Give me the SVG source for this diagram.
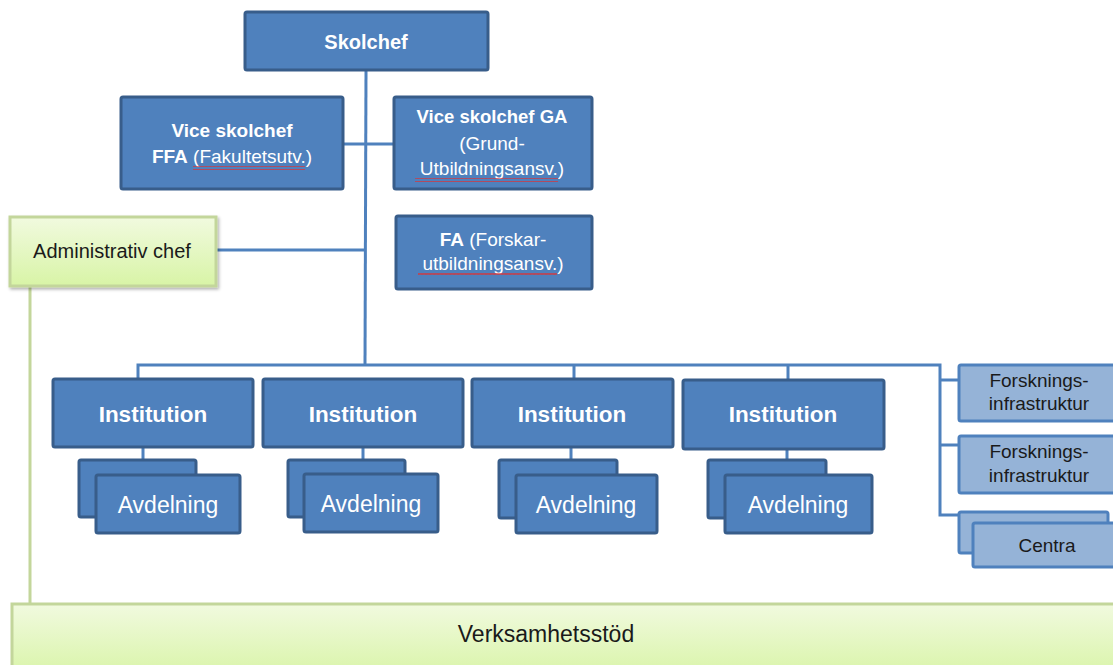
<svg xmlns="http://www.w3.org/2000/svg" width="1113" height="665" viewBox="0 0 1113 665">
<defs>
<linearGradient id="green" x1="0" y1="0" x2="0" y2="1">
<stop offset="0" stop-color="#f1fadf"/>
<stop offset="1" stop-color="#d8f4a6"/>
</linearGradient>
<pattern id="wave" width="4" height="4" patternUnits="userSpaceOnUse">
<path d="M0 3 L1 1 L2 3 L3 1 L4 3" fill="none" stroke="#e03030" stroke-width="0.8"/>
</pattern>
<filter id="sh" x="-10%" y="-10%" width="130%" height="130%">
<feDropShadow dx="1.5" dy="2" stdDeviation="1.5" flood-color="#000" flood-opacity="0.3"/>
</filter>
</defs>
<style>
.dark{fill:#4f81bd;stroke:#385d8a;stroke-width:3}
.light{fill:#95b3d7;stroke:#4f81bd;stroke-width:3}
.grn{fill:url(#green);stroke:#c3d69b;stroke-width:3}
.conn{fill:none;stroke:#4f81bd;stroke-width:3}
.gconn{fill:none;stroke:#c3d69b;stroke-width:3}
text{font-family:"Liberation Sans",Arial,sans-serif;text-anchor:middle}
.w{fill:#ffffff}
.b{font-weight:bold}
.k{fill:#1a1a1a}
.wv{fill:url(#wave)}
</style>
<g id="connectors">
<path class="conn" d="M366 70 L365 365"/>
<path class="conn" d="M343 144 H394"/>
<path class="conn" d="M216 250 H366"/>
<path class="conn" d="M138 379 V365 H940 V515 H959"/>
<path class="conn" d="M940 380 H959 M940 445 H959"/>
<path class="conn" d="M574 365 V379 M788 365 V380"/>
<path class="conn" d="M143 447 V474 M363 447 V474 M571 447 V474 M787 449 V474"/>
<path class="gconn" d="M30 286 V604"/>
</g>
<g id="skolchef">
<rect class="dark" x="245" y="12" width="243" height="58" rx="2"/>
<text class="w b" x="366" y="49" font-size="20">Skolchef</text>
</g>
<g id="vice-ffa">
<rect class="dark" x="121" y="97" width="222" height="92" rx="2"/>
<text class="w b" x="232" y="137" font-size="19">Vice skolchef</text>
<text class="w" x="232" y="163" font-size="19"><tspan class="b">FFA</tspan> (Fakultetsutv.)</text>
<rect class="wv" x="193" y="166" width="112" height="4"/>
</g>
<g id="vice-ga">
<rect class="dark" x="394" y="97" width="198" height="92" rx="2"/>
<text class="w b" x="492" y="123" font-size="18.5">Vice skolchef GA</text>
<text class="w" x="492" y="150" font-size="19">(Grund-</text>
<text class="w" x="492" y="175" font-size="19">Utbildningsansv.)</text>
<rect class="wv" x="415" y="178" width="143" height="4"/>
</g>
<g id="fa">
<rect class="dark" x="396" y="216" width="196" height="73" rx="2"/>
<text class="w" x="493" y="246" font-size="19"><tspan class="b">FA</tspan> (Forskar-</text>
<text class="w" x="493" y="270" font-size="19">utbildningsansv.)</text>
<rect class="wv" x="418" y="273" width="139" height="4"/>
</g>
<g id="admin">
<rect class="grn" x="10" y="217" width="206" height="69" filter="url(#sh)"/>
<text class="k" x="112" y="258" font-size="20">Administrativ chef</text>
</g>
<g id="inst1">
<rect class="dark" x="53" y="379" width="200" height="68" rx="2"/>
<text class="w b" x="153" y="422" font-size="22.5">Institution</text>
</g>
<g id="avd1">
<rect class="dark" x="79" y="460" width="117" height="57" rx="2"/>
<rect class="dark" x="96" y="475" width="144" height="58" rx="2"/>
<text class="w" x="168" y="513" font-size="23">Avdelning</text>
</g>
<g id="inst2">
<rect class="dark" x="263" y="379" width="200" height="68" rx="2"/>
<text class="w b" x="363" y="422" font-size="22.5">Institution</text>
</g>
<g id="avd2">
<rect class="dark" x="288" y="460" width="117" height="57" rx="2"/>
<rect class="dark" x="304" y="474" width="134" height="58" rx="2"/>
<text class="w" x="371" y="512" font-size="23">Avdelning</text>
</g>
<g id="inst3">
<rect class="dark" x="472" y="379" width="201" height="68" rx="2"/>
<text class="w b" x="572" y="422" font-size="22.5">Institution</text>
</g>
<g id="avd3">
<rect class="dark" x="499" y="460" width="118" height="58" rx="2"/>
<rect class="dark" x="516" y="475" width="141" height="58" rx="2"/>
<text class="w" x="586" y="513" font-size="23">Avdelning</text>
</g>
<g id="inst4">
<rect class="dark" x="683" y="380" width="201" height="69" rx="2"/>
<text class="w b" x="783" y="422" font-size="22.5">Institution</text>
</g>
<g id="avd4">
<rect class="dark" x="708" y="460" width="118" height="58" rx="2"/>
<rect class="dark" x="725" y="475" width="147" height="58" rx="2"/>
<text class="w" x="798" y="513" font-size="23">Avdelning</text>
</g>
<g id="forsk1">
<rect class="light" x="959" y="365" width="162" height="56" rx="2"/>
<text class="k" x="1039" y="387" font-size="19">Forsknings-</text>
<text class="k" x="1039" y="410" font-size="19">infrastruktur</text>
</g>
<g id="forsk2">
<rect class="light" x="959" y="436" width="162" height="57" rx="2"/>
<text class="k" x="1039" y="458" font-size="19">Forsknings-</text>
<text class="k" x="1039" y="482" font-size="19">infrastruktur</text>
</g>
<g id="centra">
<rect class="light" x="959" y="512" width="149" height="41" rx="2"/>
<rect class="light" x="973" y="523" width="150" height="44" rx="2"/>
<text class="k" x="1047" y="552" font-size="19">Centra</text>
</g>
<g id="verksamhetsstod">
<rect class="grn" x="12" y="604" width="1115" height="75"/>
<text class="k" x="546" y="642" font-size="23">Verksamhetsstöd</text>
</g>
</svg>
